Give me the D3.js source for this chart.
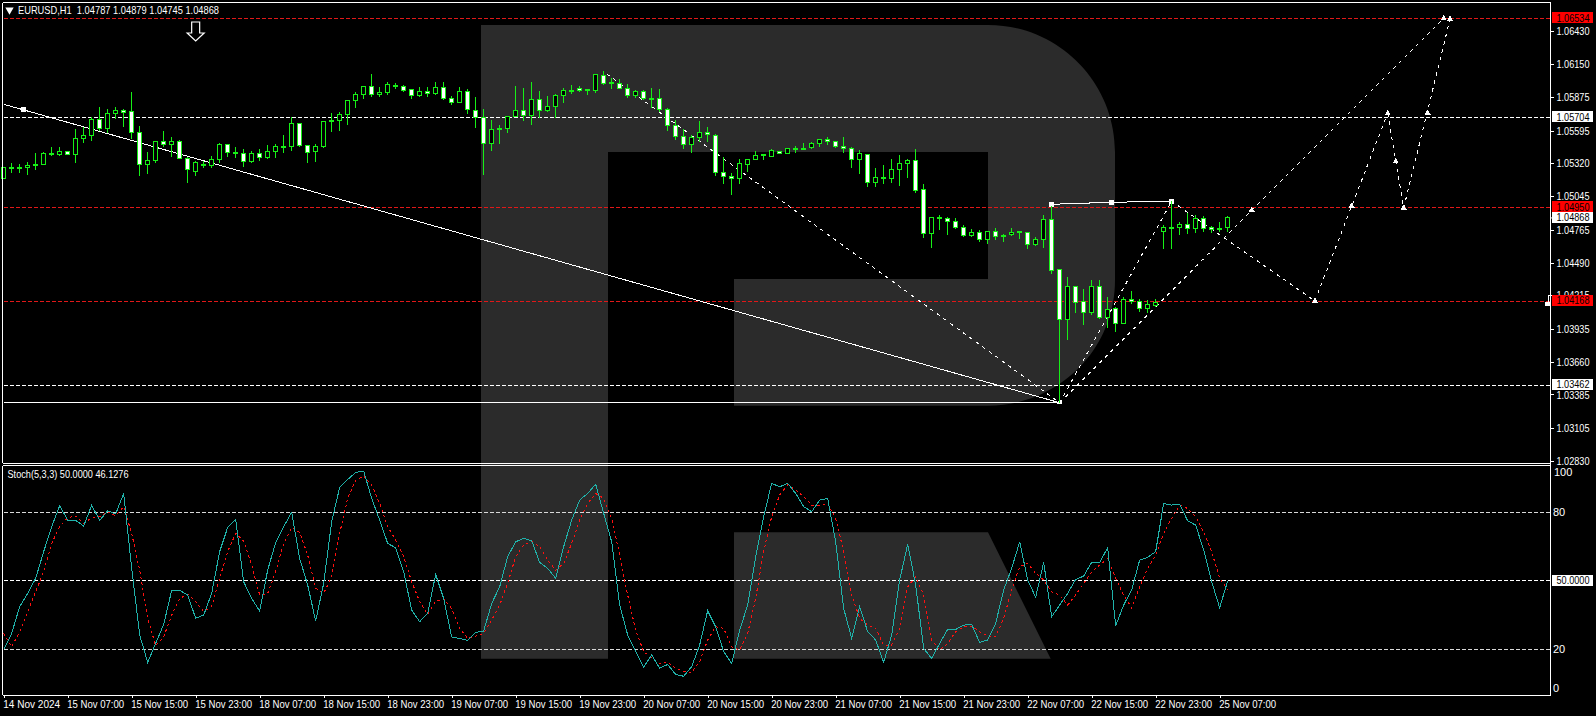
<!DOCTYPE html>
<html><head><meta charset="utf-8">
<style>html,body{margin:0;padding:0;background:#000;overflow:hidden}svg{display:block}text{font-family:"Liberation Sans",Arial,sans-serif;font-size:11px;fill:#fff}</style>
<script src="https://cdn.jsdelivr.net/npm/d3@7/dist/d3.min.js"></script>
</head><body><svg id="c" width="1596" height="716"></svg>
<script>
const symbolTitle = "EURUSD,H1  1.04787 1.04879 1.04745 1.04868";
const stochTitle = "Stoch(5,3,3) 50.0000 46.1276";
const timeLabels = ["14 Nov 2024","15 Nov 07:00","15 Nov 15:00","15 Nov 23:00","18 Nov 07:00","18 Nov 15:00","18 Nov 23:00","19 Nov 07:00","19 Nov 15:00","19 Nov 23:00","20 Nov 07:00","20 Nov 15:00","20 Nov 23:00","21 Nov 07:00","21 Nov 15:00","21 Nov 23:00","22 Nov 07:00","22 Nov 15:00","22 Nov 23:00","25 Nov 07:00"];
const priceTicks = [1.06430,1.06150,1.05875,1.05595,1.05320,1.05045,1.04765,1.04490,1.04215,1.03935,1.03660,1.03385,1.03105,1.02830];
const redLevels = [1.06534,1.04950,1.04168];
const whiteLevels = [1.05704,1.03462];
const lastPrice = 1.04868;
const stochTicks = [100,80,50,20,0];
const stochLevels = [80,50,20];
const opens = [1.05195,1.05287,1.05282,1.05287,1.05304,1.05313,1.05405,1.05396,1.05419,1.05396,
1.05530,1.05555,1.05689,1.05611,1.05740,1.05762,1.05756,1.05581,1.05313,1.05343,
1.05505,1.05480,1.05505,1.05363,1.05254,1.05315,1.05301,1.05354,1.05477,1.05413,
1.05405,1.05335,1.05405,1.05368,1.05419,1.05461,1.05463,1.05656,1.05472,1.05419,
1.05463,1.05673,1.05681,1.05731,1.05849,1.05899,1.05966,1.05896,1.05916,1.05974,
1.05963,1.05941,1.05887,1.05924,1.05904,1.05957,1.05865,1.05829,1.05924,1.05765,
1.05706,1.05485,1.05603,1.05611,1.05712,1.05765,1.05720,1.05857,1.05762,1.05795,
1.05890,1.05929,1.05949,1.05941,1.05929,1.06058,1.05994,1.05991,1.05949,1.05890,
1.05924,1.05865,1.05865,1.05773,1.05639,1.05544,1.05477,1.05539,1.05580,1.05555,
1.05245,1.05212,1.05192,1.05310,1.05352,1.05388,1.05377,1.05419,1.05402,1.05441,
1.05444,1.05450,1.05486,1.05522,1.05503,1.05461,1.05447,1.05352,1.05397,1.05159,
1.05196,1.05193,1.05268,1.05318,1.05346,1.05104,1.04732,1.04858,1.04861,1.04835,
1.04785,1.04715,1.04743,1.04682,1.04752,1.04718,1.04724,1.04743,1.04743,1.04640,
1.04682,1.04852,1.04433,1.04011,1.04290,1.04165,1.04070,1.04288,1.04033,1.04103,
1.03978,1.04181,1.04165,1.04103,1.04128,1.04748,1.04785,1.04782,1.04810,1.04773,
1.04857,1.04785,1.04776,1.04787];
const highs = [1.05285,1.05321,1.05315,1.05332,1.05405,1.05419,1.05455,1.05455,1.05419,1.05606,
1.05628,1.05712,1.05790,1.05773,1.05790,1.05779,1.05916,1.05634,1.05413,1.05505,
1.05589,1.05539,1.05514,1.05377,1.05338,1.05338,1.05380,1.05488,1.05486,1.05455,
1.05438,1.05421,1.05438,1.05472,1.05483,1.05558,1.05706,1.05656,1.05472,1.05483,
1.05678,1.05740,1.05751,1.05851,1.05916,1.05969,1.06066,1.05957,1.05999,1.05991,
1.05977,1.05941,1.05957,1.05957,1.05999,1.05999,1.05882,1.05957,1.05941,1.05876,
1.05773,1.05684,1.05639,1.05717,1.05968,1.05952,1.05999,1.05924,1.05885,1.05899,
1.05949,1.05974,1.05966,1.05941,1.06069,1.06091,1.06035,1.06024,1.05982,1.05932,
1.05932,1.05952,1.05941,1.05781,1.05684,1.05606,1.05555,1.05675,1.05622,1.05566,
1.05371,1.05237,1.05354,1.05354,1.05422,1.05402,1.05444,1.05425,1.05447,1.05466,
1.05492,1.05497,1.05522,1.05539,1.05511,1.05539,1.05461,1.05430,1.05402,1.05279,
1.05305,1.05355,1.05388,1.05355,1.05439,1.05148,1.04869,1.04886,1.04869,1.04861,
1.04802,1.04768,1.04760,1.04752,1.04780,1.04727,1.04780,1.04752,1.04743,1.04704,
1.04886,1.04963,1.04433,1.04366,1.04293,1.04265,1.04341,1.04343,1.04201,1.04120,
1.04198,1.04248,1.04181,1.04173,1.04184,1.04801,1.05008,1.04829,1.04902,1.04885,
1.04877,1.04796,1.04829,1.04879];
const lows = [1.05190,1.05243,1.05243,1.05226,1.05265,1.05307,1.05382,1.05385,1.05388,1.05326,
1.05494,1.05511,1.05589,1.05578,1.05689,1.05628,1.05528,1.05218,1.05234,1.05321,
1.05458,1.05374,1.05354,1.05159,1.05218,1.05285,1.05285,1.05321,1.05377,1.05368,
1.05293,1.05326,1.05343,1.05357,1.05368,1.05410,1.05424,1.05455,1.05321,1.05332,
1.05447,1.05586,1.05595,1.05642,1.05784,1.05860,1.05879,1.05874,1.05893,1.05946,
1.05921,1.05862,1.05876,1.05876,1.05896,1.05854,1.05812,1.05823,1.05734,1.05617,
1.05223,1.05424,1.05483,1.05575,1.05706,1.05675,1.05642,1.05703,1.05751,1.05703,
1.05826,1.05901,1.05918,1.05893,1.05910,1.05974,1.05943,1.05941,1.05868,1.05868,
1.05851,1.05781,1.05751,1.05592,1.05516,1.05441,1.05407,1.05499,1.05499,1.05215,
1.05148,1.05055,1.05148,1.05248,1.05349,1.05349,1.05374,1.05397,1.05402,1.05411,
1.05444,1.05444,1.05461,1.05475,1.05453,1.05411,1.05285,1.05235,1.05126,1.05126,
1.05151,1.05159,1.05134,1.05198,1.05076,1.04699,1.04615,1.04766,1.04724,1.04771,
1.04707,1.04704,1.04665,1.04646,1.04682,1.04662,1.04713,1.04690,1.04607,1.04632,
1.04612,1.04394,1.03316,1.03841,1.04070,1.03969,1.04053,1.04020,1.03941,1.03908,
1.03975,1.04142,1.04075,1.04064,1.04120,1.04603,1.04603,1.04720,1.04729,1.04740,
1.04748,1.04740,1.04745,1.04745];
const closes = [1.05285,1.05276,1.05285,1.05304,1.05313,1.05405,1.05394,1.05419,1.05394,1.05530,
1.05555,1.05689,1.05611,1.05740,1.05762,1.05745,1.05581,1.05313,1.05343,1.05505,
1.05480,1.05505,1.05363,1.05271,1.05329,1.05304,1.05354,1.05480,1.05413,1.05405,
1.05338,1.05405,1.05371,1.05421,1.05463,1.05466,1.05656,1.05469,1.05410,1.05463,
1.05673,1.05681,1.05731,1.05849,1.05899,1.05966,1.05899,1.05916,1.05983,1.05963,
1.05929,1.05890,1.05924,1.05904,1.05957,1.05862,1.05829,1.05924,1.05770,1.05703,
1.05485,1.05606,1.05614,1.05714,1.05765,1.05720,1.05857,1.05762,1.05798,1.05890,
1.05932,1.05935,1.05932,1.05929,1.06066,1.05991,1.05988,1.05949,1.05890,1.05924,
1.05862,1.05860,1.05773,1.05636,1.05544,1.05477,1.05539,1.05580,1.05561,1.05245,
1.05209,1.05195,1.05321,1.05354,1.05388,1.05394,1.05430,1.05402,1.05444,1.05447,
1.05447,1.05489,1.05520,1.05503,1.05461,1.05444,1.05355,1.05405,1.05159,1.05201,
1.05201,1.05271,1.05321,1.05346,1.05092,1.04732,1.04869,1.04869,1.04833,1.04780,
1.04715,1.04743,1.04682,1.04752,1.04707,1.04707,1.04743,1.04746,1.04640,1.04682,
1.04852,1.04422,1.04014,1.04290,1.04154,1.04070,1.04290,1.04028,1.04098,1.03978,
1.04181,1.04165,1.04103,1.04140,1.04156,1.04785,1.04779,1.04810,1.04773,1.04863,
1.04773,1.04771,1.04779,1.04868];
const stochMain = [20.0,27.0,38.7,44.5,51.1,62.8,73.7,82.9,76.6,76.5,74.0,83.1,76.5,80.7,79.3,88.3,55.5,26.3,14.3,22.6,30.9,45.8,45.8,43.8,33.6,35.0,44.5,62.8,73.4,76.9,49.6,42.3,36.8,54.7,66.8,73.7,80.0,59.8,48.2,32.4,48.9,75.9,90.9,94.4,97.5,98.1,86.1,76.6,66.4,64.5,54.0,37.2,32.1,
35.8,52.8,42.3,25.4,24.8,23.9,27.4,28.0,40.1,47.4,60.6,67.1,68.6,67.6,58.1,55.5,51.1,65.0,76.6,85.4,88.3,92.3,79.6,67.1,39.4,26.3,19.0,12.2,17.5,11.7,13.4,9.0,8.2,12.4,21.9,36.9,29.9,19.0,13.8,28.4,39.4,60.6,78.1,92.7,91.2,92.7,88.3,82.5,80.3,85.4,86.1,67.1,
37.9,24.8,38.7,27.7,24.1,14.3,26.3,50.4,66.0,48.2,20.4,16.0,22.6,28.7,28.7,30.6,30.9,23.0,24.1,31.4,46.0,55.5,67.1,50.4,42.8,58.1,34.3,39.4,44.5,50.6,52.1,58.1,58.1,64.5,30.3,39.4,46.0,59.1,60.3,62.8,83.9,83.2,83.5,76.3,74.4,63.5,49.6,38.2,50.0];
const stochSignal = [27.0,21.1,27.7,36.5,45.2,54.0,66.4,73.7,77.6,78.4,75.2,77.6,78.1,80.3,78.5,82.5,70.8,54.7,33.6,21.6,25.5,35.0,42.3,44.1,40.9,36.5,38.7,51.1,62.8,70.8,67.4,56.9,43.8,44.5,54.0,66.4,73.3,71.2,61.3,46.7,44.5,51.8,70.8,86.1,94.1,96.0,92.0,83.9,73.7,67.9,60.6,49.6,40.9,
35.3,41.1,42.0,37.9,29.2,24.8,25.8,27.0,32.8,39.4,48.9,60.6,65.7,67.4,65.0,59.1,54.7,57.6,66.4,76.6,83.9,88.3,86.1,77.4,61.3,43.8,28.4,19.0,16.3,13.8,14.3,11.7,10.2,9.9,14.6,24.1,29.9,29.2,21.1,19.7,27.0,42.3,62.8,78.1,87.6,92.0,89.8,86.9,83.2,83.2,83.9,77.4,
62.8,43.8,33.6,30.6,29.2,21.9,21.9,29.2,47.4,51.8,43.8,24.1,19.7,22.6,27.7,29.9,30.2,27.7,25.8,25.5,33.6,46.0,56.2,57.7,53.3,50.4,45.2,43.8,39.4,43.8,48.9,54.0,56.9,59.8,51.1,43.8,38.2,47.4,55.5,61.3,70.8,77.4,83.2,81.7,78.1,71.5,62.8,51.1,46.1];
// wave drawings as [bar, price]
const trendSolid = [[0.04,1.05815],[132,1.03316]];
const baseSolid = [[0.04,1.03320],[132,1.03316]];
const topSolid = [[131,1.04978],[138.5,1.04995],[146,1.05003]];
const dashedWaves = [
 [[75.4,1.06069],[132,1.03316]],
 [[132,1.03316],[146,1.05003]],
 [[146,1.05003],[163.9,1.04168]],
 [[132,1.03316],[180,1.06534]],
 [[163.9,1.04168],[173,1.05740]],
 [[173,1.05740],[175,1.04947]],
 [[175,1.04947],[180.8,1.06530]]];
const squarePoints = [[2.45,1.05774],[131,1.04978],[138.5,1.04995],[146,1.05003]];
const wavePoints = [[132,1.03316],[156,1.04930],[163.9,1.04168],[168.5,1.04964],[173,1.05740],[174,1.05338],[175,1.04947],[178,1.05743],[180,1.06534],[180.8,1.06530]];
const arrowBar = 24, arrowPrice = 1.06425;

const svg = d3.select("#c");
const xs = d3.scaleLinear().domain([0,153]).range([3.67,1227.67]);
const yp = d3.scaleLinear().domain([1.06534,1.03462]).range([18.5,385.3]);
const ys = d3.scaleLinear().domain([0,100]).range([695,466.7]);
const L=2.5,R=1550.5,T=2.5,B=695;
const fmt=d3.format(".5f");

// watermark logo
const logo = d3.path();
logo.moveTo(481,25);logo.lineTo(988,25);
logo.bezierCurveTo(1058,25,1115,82,1115,152);
logo.lineTo(1115,280);
logo.bezierCurveTo(1115,350,1058,405.7,988,405.7);
logo.lineTo(734,405.7);logo.lineTo(734,279);logo.lineTo(988,279);logo.lineTo(988,152);logo.lineTo(608,152);
logo.lineTo(608,658.7);logo.lineTo(481,658.7);logo.closePath();
logo.moveTo(734,532.3);logo.lineTo(988,532.3);logo.lineTo(1050.7,658.7);logo.lineTo(734,658.7);logo.closePath();
svg.append("path").attr("d",logo.toString()).attr("fill","#2b2b2b");

const g = svg.append("g").attr("shape-rendering","crispEdges");
const hline=(y,c,d)=>g.append("line").attr("x1",L+1).attr("x2",R).attr("y1",y).attr("y2",y).attr("stroke",c).attr("stroke-dasharray",d);
redLevels.forEach(v=>hline(yp(v),"#e01818","4 2"));
whiteLevels.forEach(v=>hline(yp(v),"#fff","4 2"));
stochLevels.forEach(v=>hline(ys(v),v===50?"#fff":"#d8d8d8","4 2"));

// wave drawings
const ln = d3.line().x(d=>xs(d[0])).y(d=>yp(d[1]));
dashedWaves.forEach(w=>g.append("path").attr("d",ln(w)).attr("fill","none").attr("stroke","#fff").attr("stroke-dasharray","3.5 4.5"));
[trendSolid,baseSolid,topSolid].forEach(w=>g.append("path").attr("d",ln(w)).attr("fill","none").attr("stroke","#fff"));
g.selectAll("rect.sq").data(squarePoints).join("rect").attr("class","sq")
 .attr("x",d=>xs(d[0])-2.5).attr("y",d=>yp(d[1])-2.5).attr("width",5).attr("height",5).attr("fill","#fff");
g.selectAll("path.wp").data(wavePoints).join("path").attr("class","wp")
 .attr("d",d3.symbol(d3.symbolTriangle,16)).attr("transform",d=>`translate(${xs(d[0])},${yp(d[1])})`).attr("fill","#fff");
// right-edge price marker
g.append("rect").attr("x",1545).attr("y",yp(1.04168)+0.5).attr("width",5).attr("height",4).attr("fill","#fff");
g.append("path").attr("d",`M1548.5 ${yp(1.04168)+1}V${yp(1.04168)-6}H1550`).attr("fill","none").attr("stroke","#fff");

// candles
const idx = d3.range(opens.length);
g.selectAll("rect.wick").data(idx).join("rect").attr("class","wick")
 .attr("x",i=>xs(i)-0.5).attr("width",1).attr("y",i=>yp(highs[i])).attr("height",i=>yp(lows[i])-yp(highs[i])).attr("fill","#16f016");
g.selectAll("rect.body").data(idx).join("rect").attr("class","body")
 .attr("x",i=>xs(i)-2).attr("width",4)
 .attr("y",i=>yp(Math.max(opens[i],closes[i])))
 .attr("height",i=>Math.max(1,Math.abs(yp(opens[i])-yp(closes[i]))))
 .attr("fill",i=>closes[i]<opens[i]?"#fff":"#000")
 .attr("stroke","#16f016");

// stochastic
const sl = d3.line().x((d,i)=>xs(i)).y(d=>ys(d));
g.append("path").attr("d",sl(stochSignal)).attr("fill","none").attr("stroke","#ff1010").attr("stroke-dasharray","2.5 3");
g.append("path").attr("d",sl(stochMain)).attr("fill","none").attr("stroke","#20b2aa");

// frame
[[L,T,R,T],[L,T,L,463],[L,465.5,L,B],[R,T,R,B],[L,463.5,R,463.5],[L,465.5,R,465.5],[L,B,R,B]].forEach(a=>
 g.append("line").attr("x1",a[0]).attr("y1",a[1]).attr("x2",a[2]).attr("y2",a[3]).attr("stroke","#fff"));

// price axis
const pa = d3.axisRight(yp).tickValues(priceTicks).tickSize(3).tickPadding(3).tickFormat(fmt);
const pg = svg.append("g").attr("transform",`translate(${R},0)`).call(pa);
pg.select(".domain").remove();
pg.selectAll("line").attr("stroke","#fff").attr("shape-rendering","crispEdges");
pg.selectAll("text").attr("fill","#fff").style("font-family",'"Liberation Sans"').style("font-size","11px").attr("textLength",33).attr("lengthAdjust","spacingAndGlyphs");

// price level boxes
const box=(y,label,bg,fg)=>{
 svg.append("rect").attr("x",1552).attr("y",y-5.5).attr("width",41).attr("height",11).attr("fill",bg).attr("shape-rendering","crispEdges");
 svg.append("text").attr("x",1556.5).attr("y",y+3.8).attr("textLength",33).attr("lengthAdjust","spacingAndGlyphs").style("fill",fg).text(label);
};
redLevels.forEach(v=>box(yp(v)-0.8,fmt(v),"#ff0000","#000"));
whiteLevels.forEach(v=>box(yp(v)-0.8,fmt(v),"#fff","#000"));
box(yp(lastPrice),fmt(lastPrice),"#fff","#000");
svg.append("rect").attr("x",1550.5).attr("y",yp(lastPrice)).attr("width",2).attr("height",1).attr("fill","#fff");

// stochastic axis
svg.selectAll("text.st").data(stochTicks.filter(v=>v!==50)).join("text").attr("class","st")
 .attr("x",d=>d===100?1554:1553).attr("y",d=>d===100?ys(d)+9:d===0?ys(d)-3.5:ys(d)+3.8).text(d=>d);
box(ys(50)-0.3,"50.0000","#fff","#000");

// time axis
const ta = d3.axisBottom(xs).tickValues(timeLabels.map((_,i)=>i*8)).tickSize(3).tickPadding(3).tickFormat((d,i)=>timeLabels[i]);
const tg = svg.append("g").attr("transform",`translate(0,${B})`).call(ta);
tg.select(".domain").remove();
tg.selectAll("line").attr("stroke","#fff").attr("shape-rendering","crispEdges");
tg.selectAll("text").attr("fill","#fff").attr("text-anchor","start").attr("x",-1).attr("dy",null).attr("y",13).style("font-family",'"Liberation Sans"').style("font-size","11px").attr("textLength",57).attr("lengthAdjust","spacingAndGlyphs");

// titles
svg.append("path").attr("d",d3.symbol(d3.symbolTriangle,30)).attr("transform","translate(9.5,10) rotate(180)").attr("fill","#fff");
svg.append("text").attr("x",18).attr("y",14).attr("textLength",201).attr("lengthAdjust","spacingAndGlyphs").attr("xml:space","preserve").text(symbolTitle);
svg.append("text").attr("x",7.5).attr("y",477.5).attr("textLength",121).attr("lengthAdjust","spacingAndGlyphs").text(stochTitle);

// down arrow
const ax=xs(arrowBar), ay=yp(arrowPrice);
const arrow=d3.path();
arrow.moveTo(-4,-9.5);arrow.lineTo(4,-9.5);arrow.lineTo(4,1.5);arrow.lineTo(8.5,1.5);arrow.lineTo(0,9.5);arrow.lineTo(-8.5,1.5);arrow.lineTo(-4,1.5);arrow.closePath();
svg.append("path").attr("d",arrow.toString()).attr("transform",`translate(${ax},${ay})`).attr("fill","#000").attr("stroke","#fff").attr("stroke-width",1.2);
</script></body></html>
